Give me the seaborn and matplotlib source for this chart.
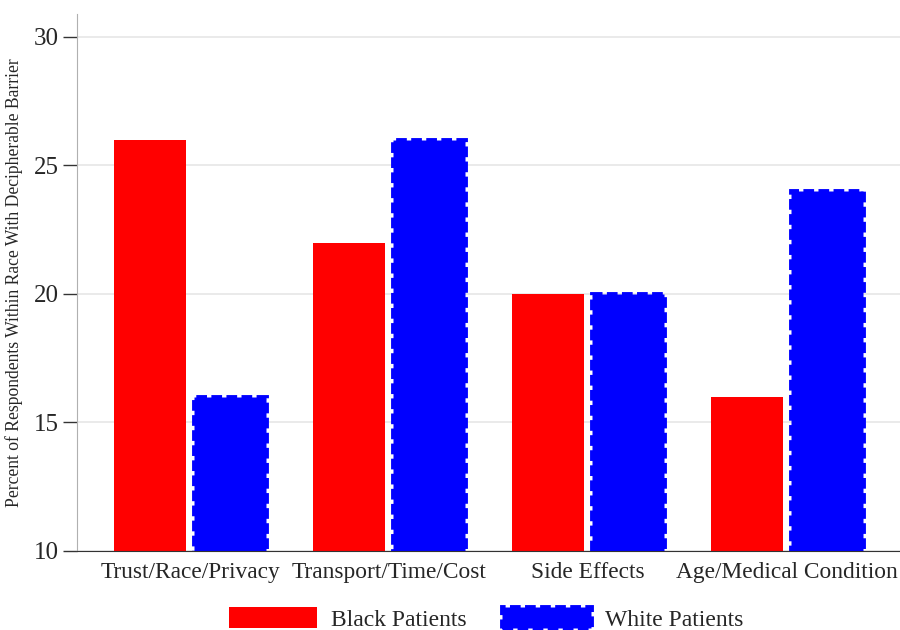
import matplotlib
matplotlib.use('agg')

import pandas as pd
import seaborn as sns
import matplotlib.pyplot as plt
from matplotlib.patches import Patch

# barrier categories and percentages per race
barriers = ['Trust/Race/Privacy', 'Transport/Time/Cost', 'Side Effects', 'Age/Medical Condition']
black_pct = [26, 22, 20, 16]
white_pct = [16, 26, 20, 24]
groups = ['Black Patients', 'White Patients']

df = pd.DataFrame({
    'barrier': barriers * 2,
    'pct': black_pct + white_pct,
    'race': [groups[0]] * len(barriers) + [groups[1]] * len(barriers),
})

sns.set_style('white')
plt.rcParams['font.family'] = ['Liberation Serif', 'DejaVu Serif']

fig = plt.figure(figsize=(9, 6.3), dpi=100)
ax = fig.add_axes([0.0856, 0.1254, 0.9144, 0.8526])

sns.barplot(data=df, x='barrier', y='pct', hue='race', order=barriers, hue_order=groups,
            palette=['#ff0000', '#0000ff'], width=0.8, gap=0.1, saturation=1,
            ax=ax, legend=False)

dash = (0, (2.2, 0.9))
# white patients get the dashed outline
for bar in ax.containers[1]:
    bar.set_edgecolor('#0000ff')
    bar.set_linestyle(dash)
    bar.set_linewidth(3.5)
for bar in ax.containers[0]:
    bar.set_linewidth(0)

ax.set_ylim(10, 30.9)
ax.set_xlim(-0.568, 3.568)
ax.set_yticks([10, 15, 20, 25, 30])
ax.yaxis.grid(True, color='#e6e6e6', linewidth=1.2)
ax.set_axisbelow(True)

for side in ['top', 'right']:
    ax.spines[side].set_visible(False)
ax.spines['left'].set_color('#b0b0b0')
ax.spines['bottom'].set_color('#333333')
ax.tick_params(axis='y', length=10, width=1, color='#333333', labelsize=18, direction='out', left=True, pad=3)
ax.tick_params(axis='x', length=0, labelsize=16.8, pad=8)

ax.set_xlabel('')
ax.set_ylabel('Percent of Respondents Within Race With Decipherable Barrier', fontsize=12.7, labelpad=8)

handles = [
    Patch(facecolor='#ff0000', edgecolor='none'),
    Patch(facecolor='#0000ff', edgecolor='#0000ff', linestyle=dash, linewidth=3.5),
]
fig.legend(handles, groups, loc='center', bbox_to_anchor=(0.54, 0.0175), ncol=2, frameon=False,
           fontsize=17, handlelength=3.75, handleheight=0.95, handletextpad=0.6, columnspacing=1.5,
           borderpad=0)

fig.savefig('out.png', dpi=100)
